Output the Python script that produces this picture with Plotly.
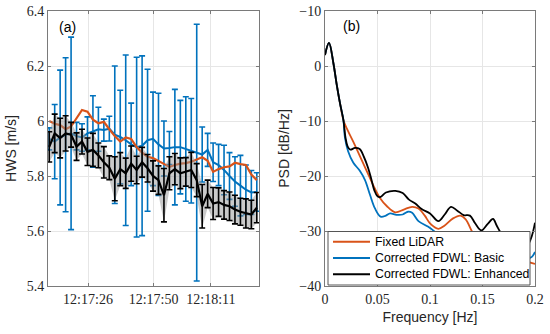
import plotly.graph_objects as go

# ---------------- Panel (a): horizontal wind speed ----------------
# time in seconds after 12:17:00
time_s = [11.8, 13.8, 15.8, 17.8, 19.8, 21.8, 23.8, 25.8, 27.8, 29.8,
          31.8, 33.8, 35.8, 37.8, 39.8, 41.8, 43.8, 45.8, 47.8, 49.8,
          51.8, 53.8, 55.8, 57.8, 59.8, 61.8, 63.8, 65.8, 67.8, 69.8,
          71.8, 73.8, 75.8, 77.8, 79.8, 81.8, 83.8, 85.8, 87.8]
time_tick_vals = [26, 50, 71]
time_tick_text = ["12:17:26", "12:17:50", "12:18:11"]

hws_fixed = [6.00, 5.99, 5.985, 5.97, 5.98, 6.01, 6.04, 6.034, 6.005, 5.992,
             5.997, 5.97, 5.945, 5.925, 5.94, 5.935, 5.905, 5.885, 5.87, 5.865,
             5.855, 5.845, 5.833, 5.84, 5.845, 5.847, 5.852, 5.86, 5.868, 5.855,
             5.815, 5.825, 5.832, 5.835, 5.848, 5.843, 5.84, 5.805, 5.785]

hws_basic = [5.935, 5.925, 5.94, 5.95, 5.955, 5.945, 5.94, 5.955, 5.962, 5.97,
             5.967, 5.972, 5.95, 5.942, 5.93, 5.915, 5.905, 5.91, 5.93, 5.935,
             5.915, 5.90, 5.902, 5.905, 5.905, 5.898, 5.892, 5.885, 5.878, 5.895,
             5.85, 5.84, 5.822, 5.80, 5.78, 5.765, 5.75, 5.74, 5.742]
hws_basic_err = [0.04, 0.135, 0.245, 0.28, 0.35, 0.05, 0.05, 0.06, 0.13, 0.08,
                 0.04, 0.045, 0.25, 0.17, 0.31, 0.15, 0.327, 0.327, 0.258, 0.17,
                 0.186, 0.10, 0.06, 0.21, 0.17, 0.19, 0.19, 0.467, 0.10, 0.06,
                 0.07, 0.075, 0.09, 0.085, 0.09, 0.11, 0.09, 0.08, 0.07]

hws_enh = [5.906, 5.955, 5.938, 5.955, 5.95, 5.907, 5.925, 5.888, 5.895, 5.875,
           5.85, 5.83, 5.79, 5.825, 5.81, 5.845, 5.822, 5.85, 5.828, 5.80,
           5.785, 5.73, 5.81, 5.825, 5.81, 5.815, 5.822, 5.785, 5.69, 5.735,
           5.70, 5.705, 5.695, 5.69, 5.678, 5.67, 5.664, 5.66, 5.685]
hws_enh_err = [0.055, 0.07, 0.072, 0.064, 0.045, 0.05, 0.045, 0.05, 0.06, 0.045,
               0.057, 0.043, 0.08, 0.06, 0.055, 0.064, 0.05, 0.054, 0.05, 0.055,
               0.052, 0.097, 0.06, 0.057, 0.056, 0.052, 0.064, 0.06, 0.079, 0.05,
               0.058, 0.052, 0.052, 0.052, 0.052, 0.049, 0.053, 0.052, 0.055]

hws_tick_vals = [5.4, 5.6, 5.8, 6.0, 6.2, 6.4]
hws_tick_text = ["5.4", "5.6", "5.8", "6", "6.2", "6.4"]

# ---------------- Panel (b): PSD ----------------
f_fixed = [0.0, 0.0038, 0.008, 0.011, 0.0143, 0.0175, 0.0206, 0.027, 0.033, 0.04,
           0.046, 0.052, 0.059, 0.067, 0.075, 0.083, 0.089, 0.095, 0.1, 0.108,
           0.114, 0.122, 0.129, 0.134, 0.14, 0.146, 0.155, 0.165, 0.18, 0.2]
psd_fixed = [2.0, 4.2, 0.5, -3.2, -6.8, -9.8, -11.3, -13.8, -16.3, -19.2,
             -21.7, -23.9, -25.5, -26.6, -26.1, -25.6, -25.9, -27.2, -28.6, -29.6,
             -29.0, -27.7, -27.2, -27.9, -30.1, -32.0, -33.5, -34.5, -35.0, -36.0]

f_basic = [0.0, 0.0038, 0.008, 0.011, 0.0143, 0.0175, 0.019, 0.022, 0.027, 0.033,
           0.038, 0.043, 0.0476, 0.053, 0.058, 0.062, 0.068, 0.074, 0.079, 0.083,
           0.089, 0.098, 0.105, 0.115, 0.13, 0.15, 0.17, 0.185, 0.197, 0.2]
psd_basic = [2.0, 4.2, 0.5, -3.2, -6.8, -9.8, -13.0, -15.5, -17.6, -19.0,
             -20.7, -23.5, -25.9, -27.4, -27.2, -26.8, -27.05, -27.0, -26.5, -26.7,
             -28.2, -29.2, -30.2, -32.0, -34.0, -35.5, -36.0, -35.5, -34.7, -33.8]

f_enh = [0.0, 0.0038, 0.008, 0.011, 0.0143, 0.0175, 0.0195, 0.0215, 0.024, 0.0286,
         0.033, 0.037, 0.041, 0.044, 0.047, 0.05, 0.053, 0.058, 0.067, 0.074,
         0.08, 0.086, 0.092, 0.1, 0.108, 0.114, 0.12, 0.126, 0.132, 0.138,
         0.143, 0.149, 0.155, 0.16, 0.1635, 0.167, 0.175, 0.185, 0.193, 0.197, 0.2]
psd_enh = [2.0, 4.2, 0.5, -3.2, -6.8, -9.8, -13.0, -14.6, -15.2, -14.9,
           -15.1, -16.5, -18.5, -20.5, -22.6, -23.7, -23.8, -23.0, -22.7, -23.1,
           -24.3, -25.0, -26.0, -26.8, -28.2, -27.0, -25.6, -26.3, -27.1, -27.2,
           -28.6, -29.9, -28.7, -27.8, -29.0, -30.2, -32.0, -33.0, -32.5, -30.9, -28.5]

psd_tick_vals = [-40, -30, -20, -10, 0, 10]
psd_tick_text = ["\u221240", "\u221230", "\u221220", "\u221210", "0", "\u221210"]
f_tick_vals = [0, 0.05, 0.1, 0.15, 0.2]
f_tick_text = ["0", "0.05", "0.1", "0.15", "0.2"]

legend_labels = ["Fixed LiDAR", "Corrected FDWL: Basic", "Corrected FDWL: Enhanced"]

ORANGE = "#D95319"
BLUE = "#0072BD"
BLACK = "#000000"
legend_colors = [ORANGE, BLUE, BLACK]

W, H = 550, 334


def px(xp):
    return xp / W


def py(yp):
    return (H - yp) / H


fig = go.Figure()

# blue corrected basic with error bars
fig.add_trace(go.Scatter(
    x=time_s, y=hws_basic, mode="lines", showlegend=False,
    line=dict(color=BLUE, width=2),
    error_y=dict(type="data", array=hws_basic_err, visible=True,
                 color=BLUE, thickness=1.6, width=3),
    xaxis="x", yaxis="y"))

# orange fixed lidar
fig.add_trace(go.Scatter(
    x=time_s, y=hws_fixed, mode="lines", showlegend=False,
    line=dict(color=ORANGE, width=2.2), xaxis="x", yaxis="y"))

# grey band around enhanced
band_x = time_s + time_s[::-1]
band_y = [m + e for m, e in zip(hws_enh, hws_enh_err)] + \
         [m - e for m, e in zip(hws_enh[::-1], hws_enh_err[::-1])]
fig.add_trace(go.Scatter(
    x=band_x, y=band_y, mode="lines", fill="toself",
    fillcolor="rgba(150,150,150,0.5)", line=dict(width=0),
    showlegend=False, hoverinfo="skip", xaxis="x", yaxis="y"))

# black corrected enhanced with error bars
fig.add_trace(go.Scatter(
    x=time_s, y=hws_enh, mode="lines", showlegend=False,
    line=dict(color=BLACK, width=2.2),
    error_y=dict(type="data", array=hws_enh_err, visible=True,
                 color=BLACK, thickness=1.6, width=3),
    xaxis="x", yaxis="y"))

# PSD curves
for fx, py_vals, col, lab in [(f_fixed, psd_fixed, ORANGE, legend_labels[0]),
                              (f_basic, psd_basic, BLUE, legend_labels[1]),
                              (f_enh, psd_enh, BLACK, legend_labels[2])]:
    fig.add_trace(go.Scatter(
        x=fx, y=py_vals, mode="lines", name=lab, showlegend=False,
        line=dict(color=col, width=1.8, shape="spline", smoothing=1.0),
        xaxis="x2", yaxis="y2"))

tickfont = dict(family="Liberation Serif", size=14, color="#262626")
titlefont = dict(family="Liberation Sans", size=14, color="#262626")
axis_common = dict(showline=True, linecolor="#7a7a7a", linewidth=1,
                   mirror="ticks", ticks="inside", ticklen=3, tickcolor="#7a7a7a",
                   showgrid=True, gridcolor="#e6e6e6", gridwidth=1,
                   zeroline=False, tickfont=tickfont, automargin=False,
                   ticklabeloverflow="allow")

ydom = [py(286), py(11)]

# manual legend box (drawn as shapes + text, like the MATLAB legend)
shapes = [dict(type="rect", xref="paper", yref="paper",
               x0=px(328), x1=px(530), y0=py(285), y1=py(231.5),
               fillcolor="white", line=dict(color="#555555", width=1), layer="above")]
annotations = []
row_y = [241.7, 258.0, 274.3]
for lab, col, ry in zip(legend_labels, legend_colors, row_y):
    shapes.append(dict(type="line", xref="paper", yref="paper",
                       x0=px(333), x1=px(370), y0=py(ry), y1=py(ry),
                       line=dict(color=col, width=2), layer="above"))
    annotations.append(dict(text=lab, x=px(373), y=py(ry), xref="paper", yref="paper",
                            xanchor="left", yanchor="middle", showarrow=False,
                            font=dict(family="Liberation Sans", size=12.3, color="#000")))

annotations += [
    dict(text="(a)", x=px(67.5), y=py(27), xref="paper", yref="paper",
         xanchor="center", yanchor="middle", showarrow=False,
         font=dict(family="Liberation Sans", size=14, color="#000")),
    dict(text="(b)", x=px(351), y=py(26), xref="paper", yref="paper",
         xanchor="center", yanchor="middle", showarrow=False,
         font=dict(family="Liberation Sans", size=14, color="#000")),
]

fig.update_layout(
    width=W, height=H, paper_bgcolor="white", plot_bgcolor="white",
    margin=dict(l=0, r=0, t=0, b=0, autoexpand=False),
    showlegend=False,
    xaxis=dict(domain=[px(48), px(259)], range=[11.35, 88.6],
               tickvals=time_tick_vals, ticktext=time_tick_text,
               anchor="y", **axis_common),
    yaxis=dict(domain=ydom, range=[5.4, 6.4], tickvals=hws_tick_vals,
               ticktext=hws_tick_text, anchor="x",
               title=dict(text="HWS [m/s]", font=titlefont, standoff=6),
               **axis_common),
    xaxis2=dict(domain=[px(325), px(535)], range=[0, 0.2],
                tickvals=f_tick_vals, ticktext=f_tick_text, anchor="y2",
                title=dict(text="Frequency [Hz]", font=titlefont, standoff=6),
                **axis_common),
    yaxis2=dict(domain=ydom, range=[-40, 10], tickvals=psd_tick_vals,
                ticktext=psd_tick_text, anchor="x2",
                title=dict(text="PSD [dB/Hz]", font=titlefont, standoff=6),
                **axis_common),
    shapes=shapes,
    annotations=annotations,
)

# remove the browser's default 8px page margin so the figure sits at the window origin
fig.write_html("out.html",
               config={"displayModeBar": False},
               post_script="document.body.style.margin='0px';document.body.style.overflow='hidden';")
